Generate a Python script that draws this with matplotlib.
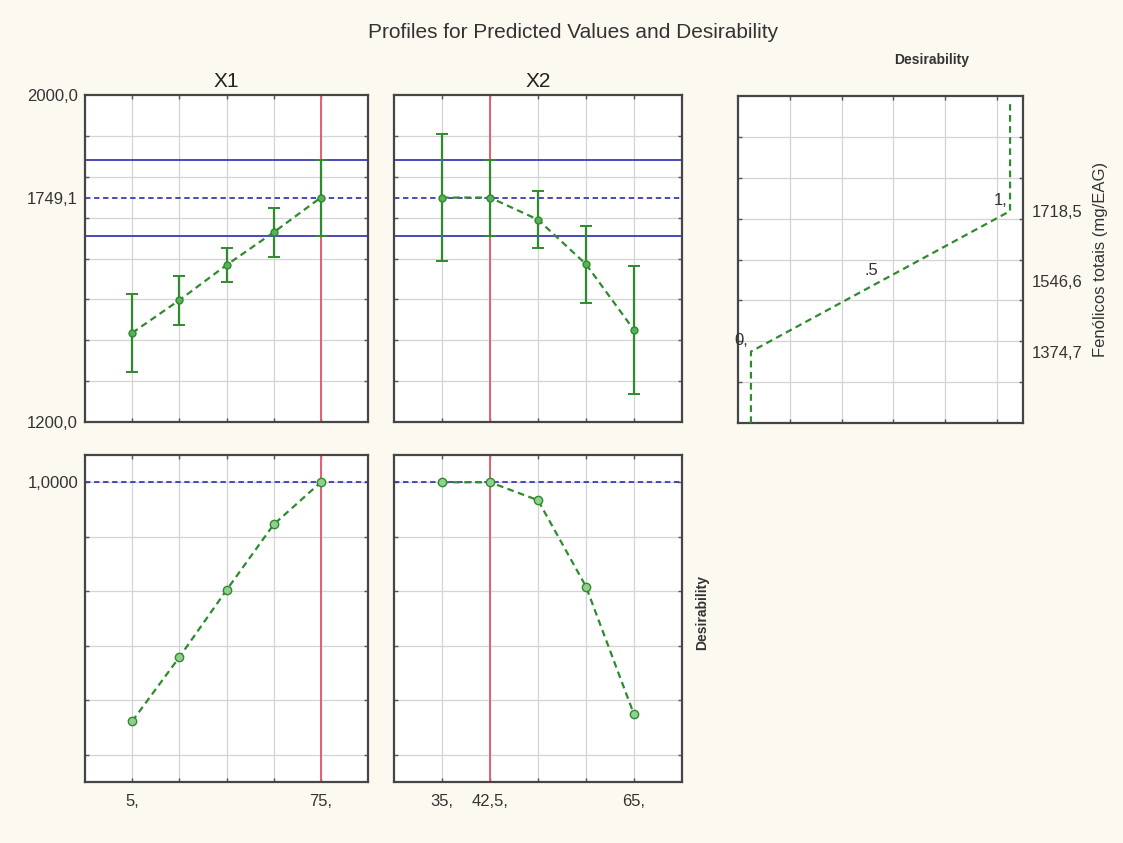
import numpy as np
import matplotlib
matplotlib.use("Agg")
import matplotlib.pyplot as plt

plt.rcParams['font.family'] = ['Liberation Sans', 'DejaVu Sans']

# profile data
x1_levels = [5, 22.5, 40, 57.5, 75]
x1_pred = [1418, 1498, 1584, 1664, 1749.1]
x1_err = [95, 60, 42, 60, 93]
x1_desir = [0.123, 0.358, 0.604, 0.845, 1.0]
x1_labels = ['5,', '', '', '', '75,']
x1_current = 75

x2_levels = [35, 42.5, 50, 57.5, 65]
x2_pred = [1749.1, 1749.1, 1695, 1586, 1425]
x2_err = [156, 93, 70, 94, 157]
x2_desir = [1.0, 1.0, 0.934, 0.617, 0.148]
x2_labels = ['35,', '42,5,', '', '', '65,']
x2_current = 42.5

pred_opt = 1749.1
ci_low = 1656
ci_high = 1842

# desirability function of the response
d_resp = [1200, 1374.7, 1546.6, 1718.5, 1980]
d_vals = [0, 0, 0.5, 1, 1]
d_tick_vals = [1374.7, 1546.6, 1718.5]
d_tick_labels = ['1374,7', '1546,6', '1718,5']
d_point_labels = ['0,', '.5', '1,']

bg = '#fcfaf0'
green = '#2e8b2e'
blue = '#3a3ab8'
red = '#e06070'
grid_c = '#d4d4d4'
frame_c = '#454545'
txt_c = '#333333'

fig = plt.figure(figsize=(11.23, 8.43), dpi=100, facecolor=bg)
W, H = 1123, 843


def add_ax(x0, y0, x1, y1):
    return fig.add_axes([x0 / W, 1 - y1 / H, (x1 - x0) / W, (y1 - y0) / H])


def style(ax):
    ax.set_facecolor('white')
    for s in ax.spines.values():
        s.set_color(frame_c)
        s.set_linewidth(1.6)
    ax.grid(True, color=grid_c, linewidth=0.9)
    ax.set_axisbelow(True)
    ax.yaxis.remove_overlapping_locs = False
    ax.tick_params(which='major', direction='in', length=3, width=1,
                   color='#555555', top=True, right=True,
                   labelsize=12, labelcolor=txt_c)


ax1 = add_ax(85, 95, 368, 422)
ax2 = add_ax(394, 95, 682, 422)
ax3 = add_ax(738, 96, 1023, 423)
ax4 = add_ax(85, 455, 368, 782)
ax5 = add_ax(394, 455, 682, 782)

panels = [
    (ax1, ax4, x1_levels, x1_pred, x1_err, x1_desir, x1_labels, x1_current, 'X1'),
    (ax2, ax5, x2_levels, x2_pred, x2_err, x2_desir, x2_labels, x2_current, 'X2'),
]

for i, (at, ab, lev, pred, err, des, labs, cur, name) in enumerate(panels):
    step = lev[1] - lev[0]
    xlim = (lev[0] - step, lev[-1] + step)

    # predicted values
    style(at)
    at.set_xlim(*xlim)
    at.set_ylim(1200, 2000)
    at.set_xticks(lev, [''] * len(lev))
    at.set_yticks(np.arange(1300, 2000, 100), [''] * 7)
    if i == 0:
        at.set_yticks([1200, pred_opt, 2000], ['1200,0', '1749,1', '2000,0'], minor=True)
    at.tick_params(which='minor', length=0, labelsize=12, labelcolor=txt_c, pad=5)
    at.axhline(ci_high, color=blue, lw=1.3, zorder=2)
    at.axhline(ci_low, color=blue, lw=1.3, zorder=2)
    at.axhline(pred_opt, color=blue, lw=1.3, ls=(0, (3, 2)), zorder=2)
    at.axvline(cur, color=red, lw=1.4, zorder=2)
    at.errorbar(lev, pred, yerr=err, fmt='o', color=green, ecolor=green,
                elinewidth=1.6, capsize=4, capthick=1.4, markersize=5,
                markerfacecolor='#58b058', zorder=4)
    at.plot(lev, pred, color=green, lw=1.6, ls=(0, (3, 2)), zorder=3)
    at.set_title(name, fontsize=15, color='#222222', pad=6)

    # desirability
    style(ab)
    ab.set_xlim(*xlim)
    ab.set_ylim(-0.1, 1.1)
    ab.set_xticks(lev, labs)
    ab.tick_params(axis='x', pad=9)
    ab.set_yticks([0, 0.2, 0.4, 0.6, 0.8, 1.0], [''] * 6)
    if i == 0:
        ab.set_yticks([1.0], ['1,0000'], minor=True)
    ab.tick_params(which='minor', length=0, labelsize=12, labelcolor=txt_c, pad=5)
    ab.axhline(1.0, color=blue, lw=1.3, ls=(0, (3, 2)), zorder=2)
    ab.axvline(cur, color=red, lw=1.4, zorder=2)
    ab.plot(lev, des, color=green, lw=1.6, ls=(0, (3, 2)), marker='o',
            markersize=6, markerfacecolor='#8fd08f', markeredgecolor=green, zorder=3)

# desirability function panel
style(ax3)
ax3.set_xlim(-0.05, 1.05)
ax3.set_ylim(1200, 2000)
ax3.set_xticks([0.15, 0.35, 0.55, 0.75, 0.95], [''] * 5)
ax3.set_yticks(np.arange(1300, 2000, 100), [''] * 7)
ax3.set_yticks(d_tick_vals, d_tick_labels, minor=True)
ax3.tick_params(which='minor', length=0, left=False, labelleft=False,
                right=True, labelright=True, labelsize=12, labelcolor=txt_c, pad=6)
ax3.plot(d_vals, d_resp, color=green, lw=1.6, ls=(0, (3, 2)), zorder=3)
for dv, rv, lab in zip(d_vals[1:4], d_resp[1:4], d_point_labels):
    ax3.text(dv - 0.01, rv + 8, lab, fontsize=12, color=txt_c, ha='right', va='bottom')
ax3.yaxis.set_label_position('right')
ax3.set_ylabel('Fenólicos totais (mg/EAG)', fontsize=12, color=txt_c, labelpad=8)

fig.text(573 / W, 1 - 33 / H, 'Profiles for Predicted Values and Desirability',
         fontsize=15, color=txt_c, ha='center', va='center')
fig.text(932 / W, 1 - 60 / H, 'Desirability', fontsize=10, fontweight='bold',
         color=txt_c, ha='center', va='center')
fig.text(702 / W, 1 - 612 / H, 'Desirability', fontsize=10, fontweight='bold',
         color=txt_c, ha='center', va='center', rotation=90)

fig.savefig('out.png', dpi=100, facecolor=bg)
